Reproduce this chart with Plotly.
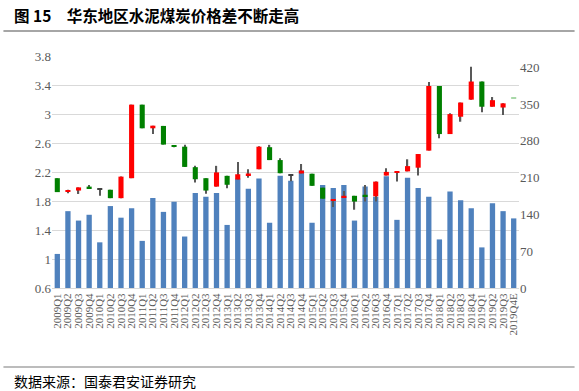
import plotly.graph_objects as go

categories = [
    "2009Q1", "2009Q2", "2009Q3", "2009Q4",
    "2010Q1", "2010Q2", "2010Q3", "2010Q4",
    "2011Q1", "2011Q2", "2011Q3", "2011Q4",
    "2012Q1", "2012Q2", "2012Q3", "2012Q4",
    "2013Q1", "2013Q2", "2013Q3", "2013Q4",
    "2014Q1", "2014Q2", "2014Q3", "2014Q4",
    "2015Q1", "2015Q2", "2015Q3", "2015Q4",
    "2016Q1", "2016Q2", "2016Q3", "2016Q4",
    "2017Q1", "2017Q2", "2017Q3", "2017Q4",
    "2018Q1", "2018Q2", "2018Q3", "2018Q4",
    "2019Q1", "2019Q2", "2019Q3", "2019Q4E",
]

# blue bars (left axis)
bar_values = [
    1.07, 1.66, 1.53, 1.61, 1.23, 1.73, 1.57, 1.70,
    1.25, 1.84, 1.65, 1.79, 1.31, 1.91, 1.86, 1.91,
    1.47, 2.11, 1.97, 2.11, 1.50, 2.15, 2.08, 2.22,
    1.50, 2.02, 1.98, 2.02, 1.53, 2.00, 1.86, 2.14,
    1.54, 2.12, 1.98, 1.86, 1.27, 1.93, 1.81, 1.70,
    1.16, 1.77, 1.66, 1.56,
]

# price-difference candles (right axis)
open_p = [
    209, 183, 185.5, 193, 188.3, 187, 171, 209,
    349, 304, 308.5, 271, 269, 230, 209, 193,
    213.5, 206.5, 215, 226, 268, 243.5, 214, 218,
    217.5, 191, 166, 173, 175.5, 177.5, 174.5, 214,
    219.8, 222, 229, 261.5, 384.5, 293, 326, 358.5,
    393, 345, 343.5, 360.6,
]
high_p = [
    209, 187, 191.5, 196, 188.5, 187, 212, 349,
    349, 309, 308.5, 272, 272.5, 232.5, 209, 232.5,
    213.5, 240, 226, 270, 272.5, 247, 215.5, 236,
    217.5, 191, 168, 184.5, 175.5, 196, 202.5, 228,
    221, 245, 255, 392, 384.5, 332.5, 353, 421,
    393, 363.5, 351.5, 360.6,
]
low_p = [
    182.5, 180.5, 179, 189.5, 175.5, 171, 171, 209,
    304, 293, 273, 268, 230.5, 201, 179.5, 193,
    190, 206.5, 210, 226, 243.5, 218.5, 203, 218,
    194.5, 170, 154, 173, 149, 164.5, 164.5, 214,
    202.5, 222, 214, 261.5, 285, 293, 316.5, 358.5,
    334.5, 345, 329.5, 360.4,
]
close_p = [
    182.5, 185.5, 191.5, 189.5, 188.3, 171, 212, 349,
    304, 309, 273, 268.5, 230.5, 207, 185.5, 220,
    196.5, 216.5, 218, 269, 243.5, 218.5, 214, 223.5,
    194.5, 170, 168, 175.5, 164.5, 174.5, 202.5, 221,
    221, 232, 255, 384.5, 293, 331, 353, 393,
    345, 357.5, 351.5, 360.4,
]

UP = "#FF0000"
DOWN = "#008000"
DOWN_EST = "#A8D8A8"
FLAT = "#404040"
WICK = "#595959"
BLUE = "#4F81BD"

body_base = [min(o, c) for o, c in zip(open_p, close_p)]
body_h = [max(abs(c - o), 1.6) for o, c in zip(open_p, close_p)]
body_col = []
for cat, o, c in zip(categories, open_p, close_p):
    if c > o:
        body_col.append(UP)
    elif c < o:
        body_col.append(DOWN_EST if cat.endswith("E") else DOWN)
    else:
        body_col.append(FLAT)
wick_base = low_p
wick_h = [max(h - l, 0.01) for h, l in zip(high_p, low_p)]

fig = go.Figure()
fig.add_trace(go.Bar(
    x=categories, y=bar_values, width=0.5,
    marker=dict(color=BLUE, line=dict(width=0)), yaxis="y", name="bars",
))
fig.add_trace(go.Bar(
    x=categories, y=wick_h, base=wick_base, width=0.12,
    marker=dict(color=WICK, line=dict(width=0)), yaxis="y2", name="wick",
))
fig.add_trace(go.Bar(
    x=categories, y=body_h, base=body_base, width=0.48,
    marker=dict(color=body_col, line=dict(width=0)), yaxis="y2", name="body",
))

tick_font = dict(family="Liberation Serif, Times New Roman, serif", size=13, color="#595959")

fig.update_layout(
    width=579, height=391, autosize=False,
    margin=dict(l=52, r=60, t=56, b=103),
    paper_bgcolor="white", plot_bgcolor="white",
    barmode="overlay", showlegend=False,
    xaxis=dict(
        type="category", tickangle=-90, showgrid=False,
        tickmode="array", tickvals=categories, ticktext=categories,
        tickfont=dict(family="Liberation Serif, Times New Roman, serif", size=11, color="#595959"),
        showline=True, linecolor="#D9D9D9", ticks="", range=[-0.5, 43.5], automargin=False,
    ),
    yaxis=dict(
        range=[0.6, 3.8], tickvals=[0.6, 1, 1.4, 1.8, 2.2, 2.6, 3, 3.4, 3.8],
        ticktext=["0.6", "1", "1.4", "1.8", "2.2", "2.6", "3", "3.4", "3.8"],
        showgrid=True, gridcolor="#D9D9D9", gridwidth=1, zeroline=False,
        tickfont=tick_font, ticks="", automargin=False,
    ),
    yaxis2=dict(
        overlaying="y", side="right", range=[0, 441.6],
        tickvals=[0, 70, 140, 210, 280, 350, 420],
        showgrid=False, zeroline=False, tickfont=tick_font, ticks="", automargin=False,
    ),
    font=dict(family="Liberation Serif, serif"),
)

# title, rules and source note
fig.add_annotation(
    xref="paper", yref="paper", x=-0.086, y=1.177, xanchor="left", yanchor="middle",
    text="<b>图 15　华东地区水泥煤炭价格差不断走高</b>", showarrow=False,
    font=dict(family="Noto Sans CJK SC", size=15.5, color="#000000"),
)
fig.add_shape(type="line", xref="paper", yref="paper", x0=-0.104, x1=1.119, y0=1.108, y1=1.108,
              line=dict(color="#A6A6A6", width=2))
fig.add_shape(type="line", xref="paper", yref="paper", x0=-0.104, x1=1.119, y0=-0.34, y1=-0.34,
              line=dict(color="#A6A6A6", width=1.5))
fig.add_annotation(
    xref="paper", yref="paper", x=-0.086, y=-0.40, xanchor="left", yanchor="middle",
    text="数据来源：国泰君安证券研究", showarrow=False,
    font=dict(family="Noto Sans CJK SC", size=14, color="#000000"),
)

fig.write_html(
    "out.html",
    config={"displayModeBar": False},
    post_script="document.body.style.margin='0';document.body.style.overflow='hidden';",
)
